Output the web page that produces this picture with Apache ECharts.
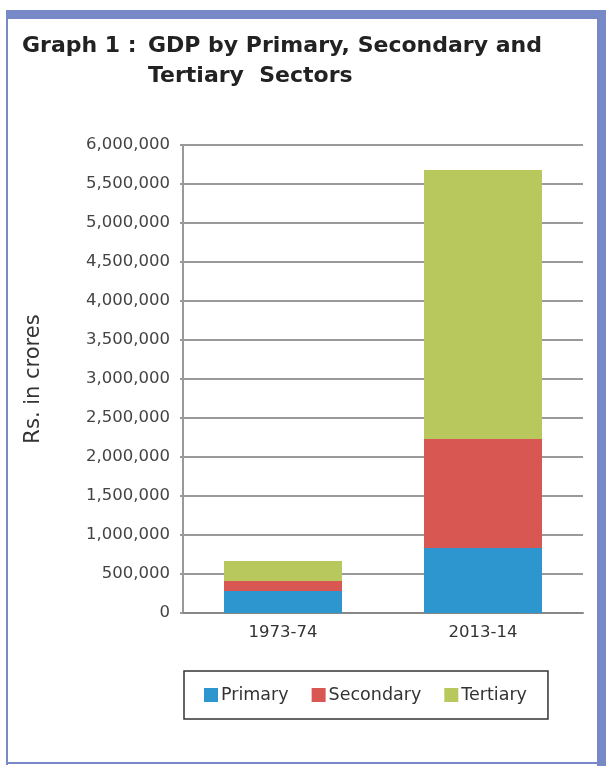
<!DOCTYPE html>
<html>
<head>
<meta charset="utf-8">
<script src="https://cdn.jsdelivr.net/npm/echarts@6/dist/echarts.min.js"></script>
<style>
html,body{margin:0;padding:0;background:#fff;}
#chart{width:606px;height:766px;}
</style>
</head>
<body>
<div id="chart"></div>
<script>
const categories = ['1973-74', '2013-14'];
const primary = [282000, 833000];
const secondary = [128000, 1398000];
const tertiary = [257000, 3448000];
const seriesNames = ['Primary', 'Secondary', 'Tertiary'];
const colors = ['#2e96cf', '#d95752', '#b8c85c'];

const FONT = 'DejaVu Sans';
const chart = echarts.init(document.getElementById('chart'), null, {renderer: 'canvas'});
const frame = '#7889c7';

chart.setOption({
  animation: false,
  backgroundColor: '#fff',
  color: colors,
  title: [
    {text: 'Graph 1 :', left: 17, top: 26,
     textStyle: {fontFamily: FONT, fontSize: 22, fontWeight: 'bold', color: '#222', lineHeight: 30}},
    {text: 'GDP by Primary, Secondary and\nTertiary  Sectors', left: 143, top: 26,
     textStyle: {fontFamily: FONT, fontSize: 22, fontWeight: 'bold', color: '#222', lineHeight: 30}}
  ],
  graphic: [
    {type: 'rect', shape: {x: 6, y: 10, width: 600, height: 9}, style: {fill: frame}, silent: true},
    {type: 'rect', shape: {x: 597, y: 10, width: 9, height: 756}, style: {fill: frame}, silent: true},
    {type: 'rect', shape: {x: 6, y: 10, width: 2, height: 755}, style: {fill: frame}, silent: true},
    {type: 'rect', shape: {x: 6, y: 762, width: 600, height: 2}, style: {fill: frame}, silent: true}
  ],
  legend: {
    data: seriesNames,
    left: 184, top: 671,
    padding: [15, 21, 15, 20],
    itemWidth: 14, itemHeight: 14, itemGap: 23,
    borderColor: '#333', borderWidth: 1.5,
    icon: 'rect',
    textStyle: {fontFamily: FONT, fontSize: 17.5, color: '#333', padding: [0, 0, 0, -2]}
  },
  grid: {left: 183, right: 23, top: 145, bottom: 153, containLabel: false},
  xAxis: {
    type: 'category',
    data: categories,
    axisLine: {lineStyle: {color: '#888', width: 2}},
    axisTick: {show: false},
    axisLabel: {fontFamily: FONT, fontSize: 16.5, color: '#333', margin: 11}
  },
  yAxis: {
    type: 'value',
    min: 0, max: 6000000, interval: 500000,
    name: 'Rs. in crores',
    nameLocation: 'middle',
    nameRotate: 90,
    nameGap: 139,
    nameTextStyle: {fontFamily: FONT, fontSize: 21, color: '#333'},
    axisLine: {show: true, lineStyle: {color: '#999', width: 2}},
    axisTick: {show: true, length: 3, lineStyle: {color: '#999', width: 2}},
    splitLine: {lineStyle: {color: '#999', width: 2}},
    axisLabel: {
      fontFamily: FONT, fontSize: 16.5, color: '#444', margin: 13,
      formatter: v => v.toLocaleString('en-US')
    }
  },
  series: [
    {name: seriesNames[0], type: 'bar', stack: 'gdp', data: primary, barCategoryGap: '41%'},
    {name: seriesNames[1], type: 'bar', stack: 'gdp', data: secondary},
    {name: seriesNames[2], type: 'bar', stack: 'gdp', data: tertiary}
  ]
});
</script>
</body>
</html>
